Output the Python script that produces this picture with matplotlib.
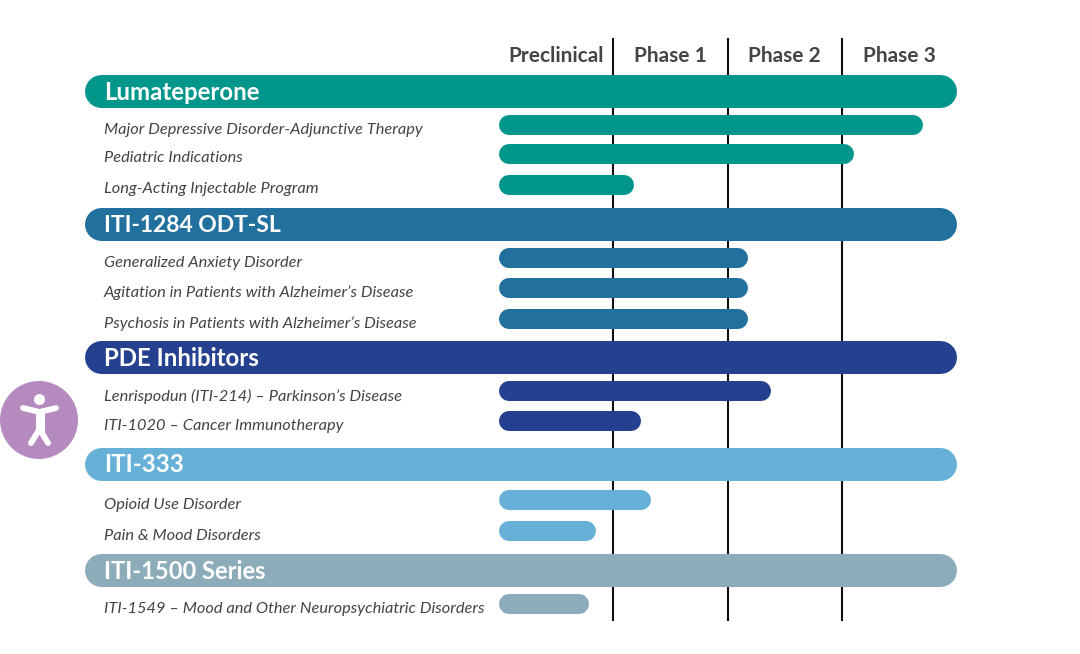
import matplotlib
matplotlib.use("Agg")
import matplotlib.pyplot as plt
from matplotlib.patches import Circle

# x values are in phases: 0 = start of preclinical, 1 = end of preclinical, ...
phases = ["Preclinical", "Phase 1", "Phase 2", "Phase 3"]
phase_edges = [1, 2, 3]
full_scale = 4.0

groups = ["Lumateperone", "ITI-1284 ODT-SL", "PDE Inhibitors", "ITI-333", "ITI-1500 Series"]
group_colors = ["#00968C", "#22709D", "#24408E", "#67B1D8", "#8DACB9"]

lumateperone_rows = ["Major Depressive Disorder-Adjunctive Therapy", "Pediatric Indications",
                     "Long-Acting Injectable Program"]
lumateperone_progress = [3.71, 3.11, 1.18]

iti1284_rows = ["Generalized Anxiety Disorder", "Agitation in Patients with Alzheimer\u2019s Disease",
                "Psychosis in Patients with Alzheimer\u2019s Disease"]
iti1284_progress = [2.18, 2.18, 2.18]

pde_rows = ["Lenrispodun (ITI-214) \u2013 Parkinson\u2019s Disease", "ITI-1020 \u2013 Cancer Immunotherapy"]
pde_progress = [2.38, 1.24]

iti333_rows = ["Opioid Use Disorder", "Pain & Mood Disorders"]
iti333_progress = [1.33, 0.85]

iti1500_rows = ["ITI-1549 \u2013 Mood and Other Neuropsychiatric Disorders"]
iti1500_progress = [0.79]

group_rows = [lumateperone_rows, iti1284_rows, pde_rows, iti333_rows, iti1500_rows]
group_progress = [lumateperone_progress, iti1284_progress, pde_progress, iti333_progress, iti1500_progress]

# layout in pixels
W, H = 1080, 654
X0_PX = 499.0
PHASE_PX = 114.3
HEADER_LEFT_PX = 84.5
LABEL_X_PX = 104.0
HEADER_H = 33
BAR_H = 20
header_y = [91, 224, 357, 463.5, 570]
header_size = [17.3, 16.5, 17.3, 17.3, 17.0]
row_y = [[125, 153.5, 184.5], [258, 288, 319], [391, 421], [500, 530.5], [604]]

plt.rcParams["font.family"] = ["Lato", "DejaVu Sans"]

fig = plt.figure(figsize=(W / 100, H / 100), dpi=100, facecolor="white")

# main axes: x in phase units, y in pixels from the top
ax = fig.add_axes([0, 0, 1, 1])
ax.set_xlim(-X0_PX / PHASE_PX, (W - X0_PX) / PHASE_PX)
ax.set_ylim(H, 0)
ax.axis("off")

# overlay axes in plain pixels for the text and the icon
ov = fig.add_axes([0, 0, 1, 1])
ov.set_xlim(0, W)
ov.set_ylim(H, 0)
ov.axis("off")
ov.patch.set_alpha(0)


def pill(y, start, end, height, color):
    # round caps stick out by half the line width, so pull the ends in
    r = height / 2 / PHASE_PX
    ax.plot([start + r, end - r], [y, y], color=color, lw=height * 0.72,
            solid_capstyle="round", zorder=3)


for edge in phase_edges:
    ax.plot([edge, edge], [38.5, 620], color="#111111", lw=1.5, zorder=1)

for i, name in enumerate(phases):
    ax.text(i + 0.5, 55.5, name, ha="center", va="center", fontsize=15,
            fontweight="bold", color="#444444")

header_left = (HEADER_LEFT_PX - X0_PX) / PHASE_PX
for i, group in enumerate(groups):
    pill(header_y[i], header_left, full_scale, HEADER_H, group_colors[i])
    ov.text(LABEL_X_PX, header_y[i] + 1.5, group, ha="left", va="center", fontsize=header_size[i],
            fontweight="bold", color="white", zorder=4)
    for label, y, progress in zip(group_rows[i], row_y[i], group_progress[i]):
        pill(y, 0, progress, BAR_H, group_colors[i])
        ov.text(LABEL_X_PX, y + 5, label, ha="left", va="center", fontsize=11.8,
                style="italic", color="#444444")

# accessibility button
ov.add_patch(Circle((39, 420), 39, color="#B58ABF", lw=0))
ov.add_patch(Circle((39.5, 399.5), 5.5, color="white", lw=0))
icon = dict(color="white", lw=4.2, solid_capstyle="round", solid_joinstyle="round")
ov.plot([23, 39.5, 56], [408, 412, 408], **icon)
ov.plot([39.5, 39.5], [412, 431], lw=6.5, color="white", solid_capstyle="butt")
ov.plot([31, 39.5, 48], [443, 429, 443], **icon)

fig.savefig("out.png", dpi=100)
plt.close(fig)
